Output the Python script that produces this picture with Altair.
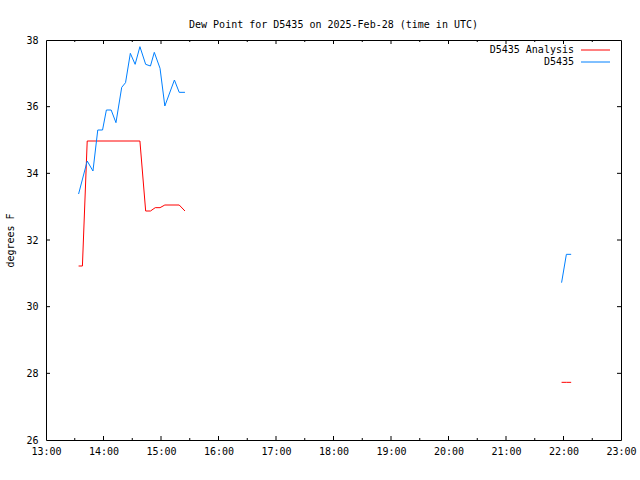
import altair as alt
import pandas as pd

title_text = "Dew Point for D5435 on 2025-Feb-28 (time in UTC)"
y_title = "degrees F"
red_name = "D5435 Analysis"
blue_name = "D5435"

# D5435 (observed) dew point, UTC times
blue_times = ["13:34", "13:43", "13:49", "13:54", "13:59", "14:03", "14:08", "14:13",
              "14:19", "14:23", "14:28", "14:33", "14:38", "14:44", "14:49", "14:53",
              "14:59", "15:04", "15:14", "15:19", "15:25",
              "21:58", "22:03", "22:08"]
blue_vals = [33.38, 34.37, 34.07, 35.30, 35.30, 35.90, 35.90, 35.52,
             36.58, 36.72, 37.60, 37.27, 37.80, 37.27, 37.22, 37.63,
             37.15, 36.02, 36.80, 36.43, 36.43,
             30.72, 31.57, 31.57]

# D5435 Analysis dew point
red_times = ["13:34", "13:38", "13:43", "14:38", "14:44", "14:49", "14:54", "14:59",
             "15:04", "15:19", "15:25",
             "21:58", "22:03", "22:08"]
red_vals = [31.22, 31.22, 34.97, 34.97, 32.87, 32.87, 32.97, 32.97,
            33.05, 33.05, 32.87,
            27.73, 27.73, 27.73]

x_major = [13, 14, 15, 16, 17, 18, 19, 20, 21, 22, 23]
x_minor = [13.5, 14.5, 15.5, 16.5, 17.5, 18.5, 19.5, 20.5, 21.5, 22.5]
y_major = [26, 28, 30, 32, 34, 36, 38]

FONT = "DejaVu Sans Mono"
W, H = 575, 400
RED = "#ff0000"
BLUE = "#0080ff"


def to_hours(ts):
    return [int(t[:2]) + int(t[3:]) / 60 for t in ts]


def make_df(times, vals, name):
    d = pd.DataFrame({"hour": to_hours(times), "value": vals, "series": name})
    d["seg"] = (d["hour"].diff() > 1).cumsum()
    return d


df_red = make_df(red_times, red_vals, red_name)
df_blue = make_df(blue_times, blue_vals, blue_name)

x_scale = alt.Scale(domain=[13, 23], nice=False, zero=False)
y_scale = alt.Scale(domain=[26, 38], nice=False, zero=False)

x_axis = alt.Axis(values=x_major, labelExpr="datum.value + ':00'", domain=False,
                  ticks=False, grid=False, title=None, labelFont=FONT, labelFontSize=10,
                  labelColor="black", labelPadding=6, labelFlush=False, labelOverlap=False)
y_axis = alt.Axis(values=y_major, domain=False, ticks=False, grid=False, title=y_title,
                  labelFont=FONT, labelFontSize=10, labelColor="black", labelPadding=8,
                  labelOverlap=False, titleFont=FONT, titleFontSize=10,
                  titleFontWeight="normal", titleColor="black", titleAngle=-90,
                  titleX=-33, titleY=200, titleAlign="center", titleBaseline="alphabetic")

X = alt.X("hour:Q", scale=x_scale, axis=x_axis)
Y = alt.Y("value:Q", scale=y_scale, axis=y_axis)

red_line = alt.Chart(df_red).mark_line(color=RED, strokeWidth=1).encode(
    x=X, y=Y, detail="seg:N")
blue_line = alt.Chart(df_blue).mark_line(color=BLUE, strokeWidth=1).encode(
    x=X, y=Y, detail="seg:N")

df_xmaj = pd.DataFrame({"hour": x_major[1:-1]})
df_xmin = pd.DataFrame({"hour": x_minor})
df_ymaj = pd.DataFrame({"value": y_major[1:-1]})

tick_layers = []
for d, ln in ((df_xmaj, 4), (df_xmin, 2)):
    tick_layers.append(alt.Chart(d).mark_rule(color="black", strokeWidth=1).encode(
        x=X, y=alt.value(H), y2=alt.value(H - ln)))
    tick_layers.append(alt.Chart(d).mark_rule(color="black", strokeWidth=1).encode(
        x=X, y=alt.value(0), y2=alt.value(ln)))
tick_layers.append(alt.Chart(df_ymaj).mark_rule(color="black", strokeWidth=1).encode(
    y=Y, x=alt.value(0), x2=alt.value(4)))
tick_layers.append(alt.Chart(df_ymaj).mark_rule(color="black", strokeWidth=1).encode(
    y=Y, x=alt.value(W), x2=alt.value(W - 4)))

legend_layers = []
for name, col, ly in ((red_name, RED, 10), (blue_name, BLUE, 22)):
    ld = pd.DataFrame({"series": [name]})
    legend_layers.append(alt.Chart(ld).mark_text(
        align="right", baseline="middle", font=FONT, fontSize=10, color="black").encode(
        x=alt.value(528), y=alt.value(ly), text="series:N"))
    legend_layers.append(alt.Chart(ld).mark_rule(color=col, strokeWidth=1).encode(
        x=alt.value(535), x2=alt.value(564), y=alt.value(ly)))

chart = alt.layer(*tick_layers, red_line, blue_line, *legend_layers).properties(
    width=W, height=H,
    title=alt.TitleParams(title_text, font=FONT, fontSize=10, fontWeight="normal",
                          anchor="middle", color="black", offset=12, dy=15,
                          baseline="alphabetic"),
    autosize="none",
    padding={"left": 46, "top": 40, "right": 19, "bottom": 40},
    background="white",
).configure_view(stroke="black", strokeWidth=1)

chart.save("out.html", embed_options={"renderer": "svg", "actions": False})
